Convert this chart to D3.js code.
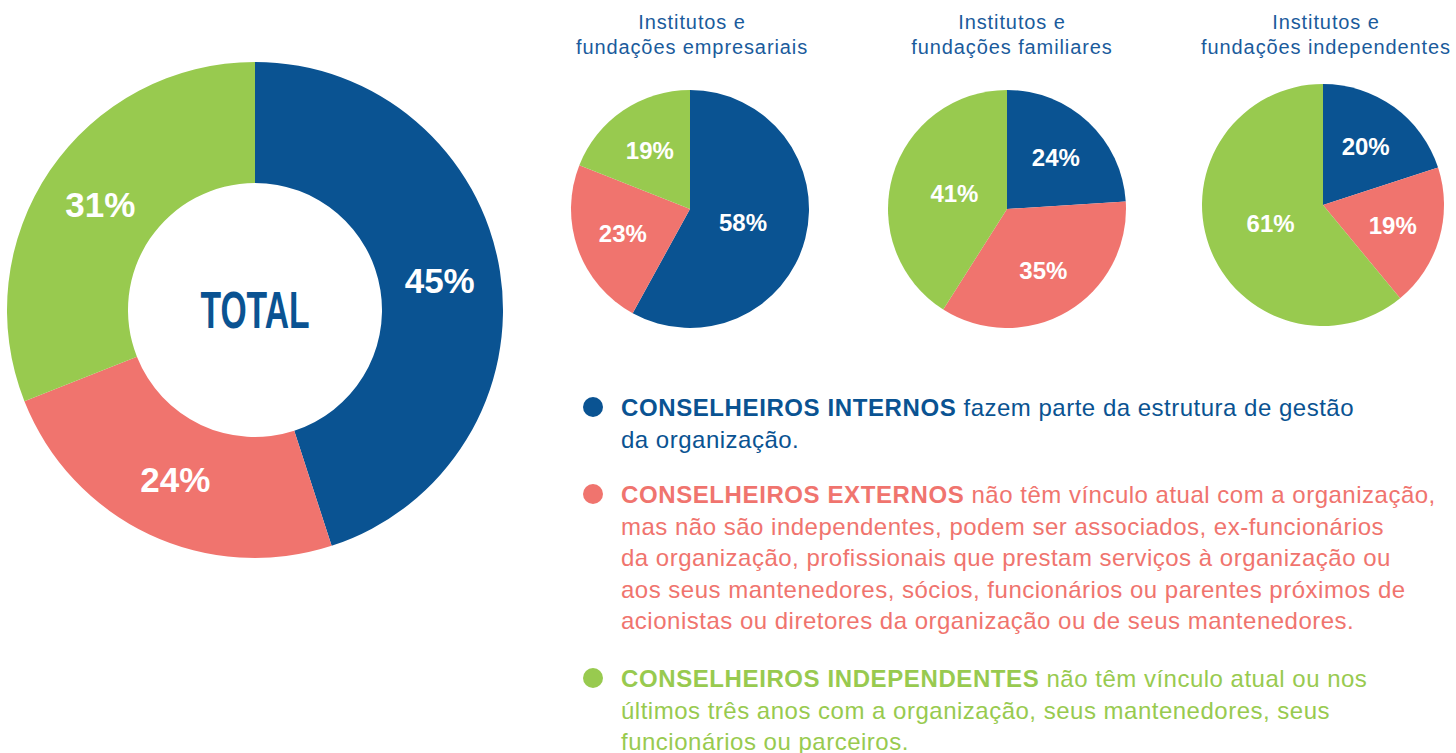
<!DOCTYPE html>
<html>
<head>
<meta charset="utf-8">
<script src="https://cdn.jsdelivr.net/npm/d3@7"></script>
<style>
  body { margin: 0; background: #fff; }
  svg { display: block; font-family: "Liberation Sans", Arial, sans-serif; }
</style>
</head>
<body>
<svg id="chart" width="1456" height="753"></svg>
<script>
// data
const categories = ["CONSELHEIROS INTERNOS", "CONSELHEIROS EXTERNOS", "CONSELHEIROS INDEPENDENTES"];
const totalValues = [45, 24, 31];
const groupTitles = [
  ["Institutos e", "fundações empresariais"],
  ["Institutos e", "fundações familiares"],
  ["Institutos e", "fundações independentes"]
];
const groupValues = [
  [58, 23, 19],
  [24, 35, 41],
  [20, 19, 61]
];
const legendLines = [
  [" fazem parte da estrutura de gestão", "da organização."],
  [" não têm vínculo atual com a organização,",
   "mas não são independentes, podem ser associados, ex-funcionários",
   "da organização, profissionais que prestam serviços à organização ou",
   "aos seus mantenedores, sócios, funcionários ou parentes próximos de",
   "acionistas ou diretores da organização ou de seus mantenedores."],
  [" não têm vínculo atual ou nos",
   "últimos três anos com a organização, seus mantenedores, seus",
   "funcionários ou parceiros."]
];

const colors = ["#0a5392", "#f0746e", "#98ca4f"];
const titleColor = "#1a5b9c";

const svg = d3.select("#chart");
const color = d3.scaleOrdinal().domain(categories).range(colors);

const pie = d3.pie().sort(null).value(d => d.v);

function toData(values) {
  return values.map((v, i) => ({ cat: categories[i], v: v }));
}

// big donut
const big = svg.append("g").attr("transform", "translate(255,310)");
const bigArc = d3.arc().innerRadius(127).outerRadius(248);
const bigLabel = d3.arc().innerRadius(187).outerRadius(187);
const bigArcs = pie(toData(totalValues));

big.selectAll("path")
  .data(bigArcs)
  .enter()
  .append("path")
  .attr("d", bigArc)
  .attr("fill", d => color(d.data.cat));

big.selectAll("text.lbl")
  .data(bigArcs)
  .enter()
  .append("text")
  .attr("class", "lbl")
  .attr("transform", d => "translate(" + bigLabel.centroid(d) + ")")
  .attr("text-anchor", "middle")
  .attr("dy", "0.36em")
  .attr("fill", "#fff")
  .attr("font-weight", "bold")
  .attr("font-size", 35)
  .text(d => d.data.v + "%");

// condensed look for the centre word
big.append("text")
  .attr("transform", "scale(0.66,1)")
  .attr("text-anchor", "middle")
  .attr("y", 18)
  .attr("fill", colors[0])
  .attr("font-weight", "bold")
  .attr("font-size", 51)
  .text("TOTAL");

// small pies
const smallPies = [
  { cx: 690, cy: 209, r: 119, tx: 692 },
  { cx: 1007, cy: 209, r: 119, tx: 1012 },
  { cx: 1323, cy: 205, r: 121, tx: 1326 }
];

smallPies.forEach(function (p, k) {
  const g = svg.append("g").attr("transform", "translate(" + p.cx + "," + p.cy + ")");
  const arc = d3.arc().innerRadius(0).outerRadius(p.r);
  const arcs = pie(toData(groupValues[k]));

  g.selectAll("path")
    .data(arcs)
    .enter()
    .append("path")
    .attr("d", arc)
    .attr("fill", d => color(d.data.cat));

  // big slices keep their label nearer the middle
  g.selectAll("text")
    .data(arcs)
    .enter()
    .append("text")
    .attr("transform", function (d) {
      const lr = d.data.v > 40 ? p.r * 0.46 : p.r * 0.6;
      return "translate(" + d3.arc().innerRadius(lr).outerRadius(lr).centroid(d) + ")";
    })
    .attr("text-anchor", "middle")
    .attr("dy", "0.36em")
    .attr("fill", "#fff")
    .attr("font-weight", "bold")
    .attr("font-size", 24)
    .text(d => d.data.v + "%");

  const t = svg.append("text")
    .attr("x", p.tx)
    .attr("y", 29)
    .attr("text-anchor", "middle")
    .attr("fill", titleColor)
    .attr("font-size", 20)
    .attr("letter-spacing", 0.9);
  groupTitles[k].forEach(function (line, i) {
    t.append("tspan").attr("x", p.tx).attr("dy", i ? 25 : 0).text(line);
  });
});

// legend
const legendTop = [416, 503, 687];
const lineH = 31.5;

categories.forEach(function (cat, i) {
  const g = svg.append("g");
  g.append("circle")
    .attr("cx", 593)
    .attr("cy", legendTop[i] - 9)
    .attr("r", 10)
    .attr("fill", color(cat));

  const t = g.append("text")
    .attr("x", 621)
    .attr("y", legendTop[i])
    .attr("fill", color(cat))
    .attr("font-size", 24)
    .attr("letter-spacing", 0.5);

  legendLines[i].forEach(function (line, j) {
    if (j === 0) {
      t.append("tspan").attr("font-weight", "bold").attr("letter-spacing", 0.6).text(cat);
      t.append("tspan").text(line);
    } else {
      t.append("tspan").attr("x", 621).attr("dy", lineH).text(line);
    }
  });
});
</script>
</body>
</html>
